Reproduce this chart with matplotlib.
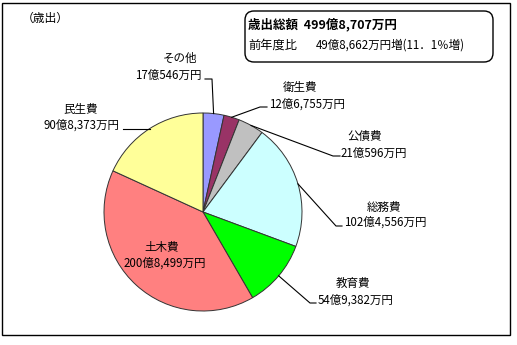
import numpy as np
import matplotlib
matplotlib.use("Agg")
import matplotlib.pyplot as plt
from matplotlib.patches import Rectangle, FancyBboxPatch

plt.rcParams['font.family'] = ['Noto Sans CJK JP', 'DejaVu Sans']

# ---- data ----
categories = ['その他', '衛生費', '公債費', '総務費', '教育費', '土木費', '民生費']
values = [17.0546, 12.6755, 21.0596, 102.4556, 54.9382, 200.8499, 90.8373]  # 億円
value_labels = ['17億546万円', '12億6,755万円', '21億596万円', '102億4,556万円',
                '54億9,382万円', '200億8,499万円', '90億8,373万円']
colors = ['#9999FF', '#993366', '#C0C0C0', '#CCFFFF', '#00FF00', '#FF8080', '#FFFF99']
title_line1 = '歳出総額  499億8,707万円'
title_line2a = '前年度比'
title_line2b = '49億8,662万円増(11．1％増)'
section = '（歳出）'

W, H = 517, 345
fig = plt.figure(figsize=(W / 100, H / 100), dpi=100)
ax = fig.add_axes([0, 0, 1, 1])

def P(x, y):
    return (x, H - y)

cx, cy = P(203, 212)
R = 99
wedges, _ = ax.pie(values, colors=colors, startangle=90, counterclock=False,
                   center=(cx, cy), radius=R,
                   wedgeprops=dict(edgecolor='#333333', linewidth=0.7))
ax.set_xlim(0, W)
ax.set_ylim(0, H)
ax.set_aspect('equal')
ax.axis('off')

FS = 8.3

# outer frame
ax.add_patch(Rectangle(P(2, 335), 508, 332, fill=False, edgecolor='black', lw=1.0))
# title box
bx0, by0, bx1, by1 = 245, 11, 493, 62
ax.add_patch(FancyBboxPatch(P(bx0, by1), bx1 - bx0, by1 - by0,
                            boxstyle='round,pad=0,rounding_size=9',
                            fill=False, edgecolor='black', lw=1.0))
ax.text(*P(248, 25), title_line1, fontsize=9, fontweight='bold', va='center', ha='left')
ax.text(*P(248, 45), title_line2a, fontsize=8.8, va='center', ha='left')
ax.text(*P(316, 45), title_line2b, fontsize=FS, va='center', ha='left')
ax.text(*P(22, 18), section, fontsize=8.5, va='center', ha='left')

# label layout (pixel positions): name center, value center, leader bend, leader end
layout = {
    'その他': dict(name=(180, 58), val=(168, 75), path=[(212, 79), (205, 79)]),
    '衛生費': dict(name=(300, 88), val=(307, 104), path=[(260, 107), (267, 107)]),
    '公債費': dict(name=(365, 136), val=(374, 153), path=[(333, 156), (340, 156)]),
    '総務費': dict(name=(384, 207), val=(385, 222), path=[(336, 226), (342, 226)]),
    '教育費': dict(name=(353, 283), val=(356, 300), path=[(310, 303), (316, 303)]),
    '民生費': dict(name=(81, 109), val=(81, 125), path=[(123, 129)]),
    '土木費': dict(name=(162, 247), val=(165, 263), path=None),
}

for w, cat, vl in zip(wedges, categories, value_labels):
    lay = layout[cat]
    ax.text(*P(*lay['name']), cat, fontsize=FS, ha='center', va='center')
    ax.text(*P(*lay['val']), vl, fontsize=FS, ha='center', va='center')
    if lay['path']:
        mid = np.deg2rad((w.theta1 + w.theta2) / 2)
        ex, ey = cx + R * np.cos(mid), cy + R * np.sin(mid)
        if cat == '民生費':
            pts = [(ex, ey), (P(*lay['path'][0])[0], ey)]
        else:
            pts = [(ex, ey)] + [P(*p) for p in lay['path']]
        xs, ys = zip(*pts)
        ax.plot(xs, ys, color='black', lw=0.8)

fig.savefig('out.png', dpi=100)
